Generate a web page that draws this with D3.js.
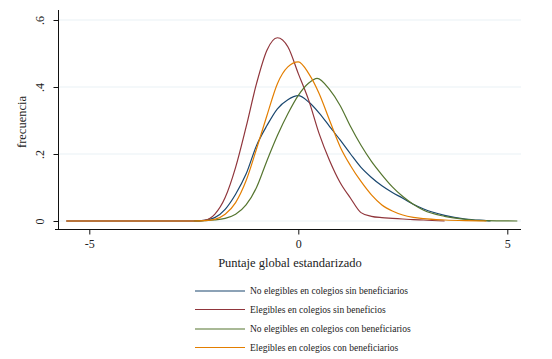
<!DOCTYPE html>
<html lang="es">
<head>
<meta charset="UTF-8"/>
<title>Densidad del puntaje global</title>
<script src="https://d3js.org/d3.v7.min.js"></script>
<style>
	body { margin: 0; background: #fff; }
	text { font-family: "Liberation Serif", "DejaVu Serif", serif; fill: #222; }
</style>
</head>
<body>
<div id="chart"></div>
<script>
// densities, one x grid per series
var xBlue   = [-5.55, -2.5, -2.25, -2, -1.75, -1.5, -1.25, -1, -0.75, -0.5, -0.25, 0, 0.25, 0.5, 0.75, 1, 1.25, 1.5, 1.75, 2, 2.25, 2.5, 2.75, 3, 3.5, 4, 4.5, 4.6];
var yBlue   = [0, 0, 0.002, 0.01, 0.035, 0.08, 0.14, 0.225, 0.285, 0.335, 0.362, 0.374, 0.355, 0.322, 0.282, 0.242, 0.2, 0.16, 0.13, 0.105, 0.085, 0.068, 0.05, 0.036, 0.017, 0.006, 0.001, 0];

var xRed    = [-5.55, -2.5, -2.25, -2, -1.75, -1.5, -1.25, -1, -0.75, -0.5, -0.25, 0, 0.25, 0.5, 0.75, 1, 1.25, 1.5, 1.75, 2, 2.25, 2.5, 2.75, 3, 3.5];
var yRed    = [0, 0, 0.002, 0.02, 0.07, 0.16, 0.28, 0.41, 0.51, 0.547, 0.52, 0.44, 0.36, 0.26, 0.18, 0.115, 0.068, 0.025, 0.014, 0.01, 0.008, 0.006, 0.004, 0.003, 0];

var xGreen  = [-2.5, -2.25, -2, -1.75, -1.5, -1.25, -1, -0.75, -0.5, -0.25, 0, 0.25, 0.45, 0.75, 1, 1.25, 1.5, 1.75, 2, 2.25, 2.5, 2.75, 3, 3.5, 4, 4.5, 5.24];
var yGreen  = [0, 0.001, 0.003, 0.008, 0.02, 0.048, 0.1, 0.18, 0.255, 0.32, 0.375, 0.412, 0.426, 0.392, 0.345, 0.282, 0.226, 0.178, 0.138, 0.102, 0.073, 0.05, 0.032, 0.014, 0.005, 0.001, 0];

var xOrange = [-5.55, -2.5, -2.25, -2, -1.75, -1.5, -1.25, -1, -0.75, -0.5, -0.25, 0, 0.25, 0.5, 0.75, 1, 1.25, 1.5, 1.75, 2, 2.25, 2.5, 2.75, 3, 3.5, 4, 4.5];
var yOrange = [0, 0, 0.001, 0.005, 0.02, 0.055, 0.12, 0.215, 0.315, 0.41, 0.46, 0.475, 0.44, 0.38, 0.3, 0.222, 0.165, 0.118, 0.078, 0.048, 0.03, 0.018, 0.011, 0.007, 0.003, 0.001, 0];

var seriesNames = [
	"No elegibles en colegios sin beneficiarios",
	"Elegibles en colegios sin beneficios",
	"No elegibles en colegios con beneficiarios",
	"Elegibles en colegios con beneficiarios"
];
var seriesColors = ["#1a476f", "#90353b", "#55752f", "#e37e00"];

var xTicks = [-5, 0, 5];
var xTickLabels = ["-5", "0", "5"];
var yTicks = [0, 0.2, 0.4, 0.6];
var yTickLabels = ["0", ".2", ".4", ".6"];

var w = 552, h = 359;

var svg = d3.select("#chart").append("svg")
	.attr("width", w)
	.attr("height", h);

var x = d3.scaleLinear().domain([-5, 5]).range([89.3, 507.3]);
var y = d3.scaleLinear().domain([0, 0.6]).range([221, 20]);

// grid lines
svg.selectAll(".grid")
	.data(yTicks)
	.enter()
	.append("line")
	.attr("x1", 59)
	.attr("x2", 521)
	.attr("y1", function (d) { return y(d); })
	.attr("y2", function (d) { return y(d); })
	.attr("stroke", "#eaf1f5")
	.attr("stroke-width", 1.2);

// curves
var data = [
	d3.zip(xBlue, yBlue),
	d3.zip(xRed, yRed),
	d3.zip(xGreen, yGreen),
	d3.zip(xOrange, yOrange)
];

var line = d3.line()
	.x(function (d) { return x(d[0]); })
	.y(function (d) { return y(d[1]); })
	.curve(d3.curveMonotoneX);

svg.selectAll(".curve")
	.data(data)
	.enter()
	.append("path")
	.attr("d", line)
	.attr("fill", "none")
	.attr("stroke", function (d, i) { return seriesColors[i]; })
	.attr("stroke-width", 1.2);

// y axis
var yAxis = svg.append("g")
	.attr("transform", "translate(58.5,0)")
	.call(d3.axisLeft(y).tickValues(yTicks).tickSize(5).tickSizeOuter(0)
		.tickFormat(function (d, i) { return yTickLabels[i]; }));
yAxis.select(".domain").attr("d", "M0,10V229").attr("stroke", "#111");
yAxis.selectAll(".tick line").attr("stroke", "#111");
yAxis.selectAll(".tick text")
	.attr("x", null)
	.attr("dy", null)
	.attr("transform", "translate(-15,0) rotate(-90)")
	.attr("text-anchor", "middle")
	.attr("font-family", "Liberation Serif")
	.attr("font-size", "12px")
	.attr("fill", "#222");

// x axis
var xAxis = svg.append("g")
	.attr("transform", "translate(0,229.5)")
	.call(d3.axisBottom(x).tickValues(xTicks).tickSize(5).tickSizeOuter(0)
		.tickFormat(function (d, i) { return xTickLabels[i]; }));
xAxis.select(".domain").attr("d", "M55,0H521").attr("stroke", "#111");
xAxis.selectAll(".tick line").attr("stroke", "#111");
xAxis.selectAll(".tick text")
	.attr("y", 10)
	.attr("font-family", "Liberation Serif")
	.attr("font-size", "12px")
	.attr("fill", "#222");

// axis titles
svg.append("text")
	.attr("x", 290)
	.attr("y", 267)
	.attr("text-anchor", "middle")
	.attr("font-size", "12.5px")
	.text("Puntaje global estandarizado");

svg.append("text")
	.attr("transform", "translate(26,122) rotate(-90)")
	.attr("text-anchor", "middle")
	.attr("font-size", "12.5px")
	.text("frecuencia");

// legend
var legendY = [291, 309.5, 329, 347.5];
var legend = svg.selectAll(".legend")
	.data(seriesNames)
	.enter()
	.append("g")
	.attr("transform", function (d, i) { return "translate(195," + legendY[i] + ")"; });

legend.append("line")
	.attr("x1", 0)
	.attr("x2", 50)
	.attr("stroke", function (d, i) { return seriesColors[i]; })
	.attr("stroke-width", 1.2);

legend.append("text")
	.attr("x", 55)
	.attr("dy", "0.32em")
	.attr("font-size", "9.5px")
	.text(function (d) { return d; });
</script>
</body>
</html>
